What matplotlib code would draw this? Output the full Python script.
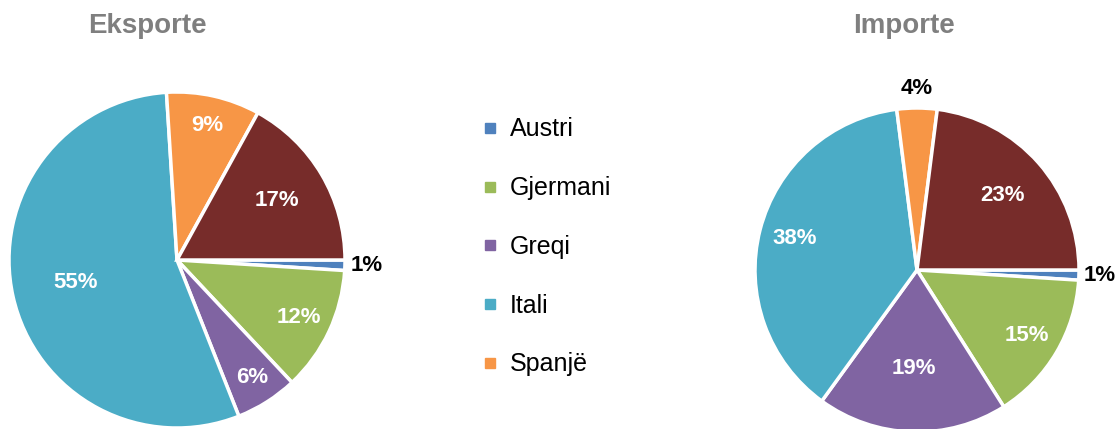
import matplotlib
matplotlib.use("Agg")
import matplotlib.pyplot as plt
from matplotlib.lines import Line2D
import numpy as np

plt.rcParams['font.family'] = ['Liberation Sans', 'DejaVu Sans']

# data
categories = ["Austri", "Gjermani", "Greqi", "Itali", "Spanjë", "Të tjera"]
eksporte = [1, 12, 6, 55, 9, 17]
importe = [1, 15, 19, 38, 4, 23]
colors = ["#4F81BD", "#9BBB59", "#8064A2", "#4BACC6", "#F79646", "#772C2A"]

# label distance from centre (fraction of radius), per slice
eks_dist = [1.13, 0.80, 0.83, 0.62, 0.82, 0.69]
imp_dist = [1.13, 0.79, 0.61, 0.78, 1.12, 0.70]

W, H = 1120, 429
fig = plt.figure(figsize=(W / 100, H / 100), dpi=100)


def draw_pie(cx, cy, r, values, dists):
    ax = fig.add_axes([(cx - r) / W, (H - cy - r) / H, 2 * r / W, 2 * r / H])
    wedges, _ = ax.pie(values, colors=colors, startangle=0, counterclock=False,
                       wedgeprops=dict(edgecolor="white", linewidth=2.5))
    for w, v, d in zip(wedges, values, dists):
        ang = np.deg2rad((w.theta1 + w.theta2) / 2)
        col = "black" if d > 1 else "white"
        ax.text(d * np.cos(ang), d * np.sin(ang), f"{v}%", ha="center", va="center",
                fontsize=16, fontweight="bold", color=col)
    ax.set_xlim(-1, 1)
    ax.set_ylim(-1, 1)
    ax.set_aspect("auto")
    ax.axis("off")
    return ax


draw_pie(177, 260, 168, eksporte, eks_dist)
draw_pie(917, 270, 162, importe, imp_dist)

fig.text(147 / W, 1 - 26 / H, "Eksporte", ha="center", va="center",
         fontsize=20, fontweight="bold", color="#7F7F7F")
fig.text(904 / W, 1 - 26 / H, "Importe", ha="center", va="center",
         fontsize=20, fontweight="bold", color="#7F7F7F")

handles = [Line2D([], [], marker="s", linestyle="", color=c, markersize=7)
           for c in colors[:5]]
fig.legend(handles, categories[:5], loc="center left",
           bbox_to_anchor=(470 / W, 1 - 247 / H), frameon=False,
           fontsize=18, handlelength=0.6, handletextpad=0.5,
           labelspacing=1.39, borderpad=0)

fig.savefig("out.png", dpi=100)
